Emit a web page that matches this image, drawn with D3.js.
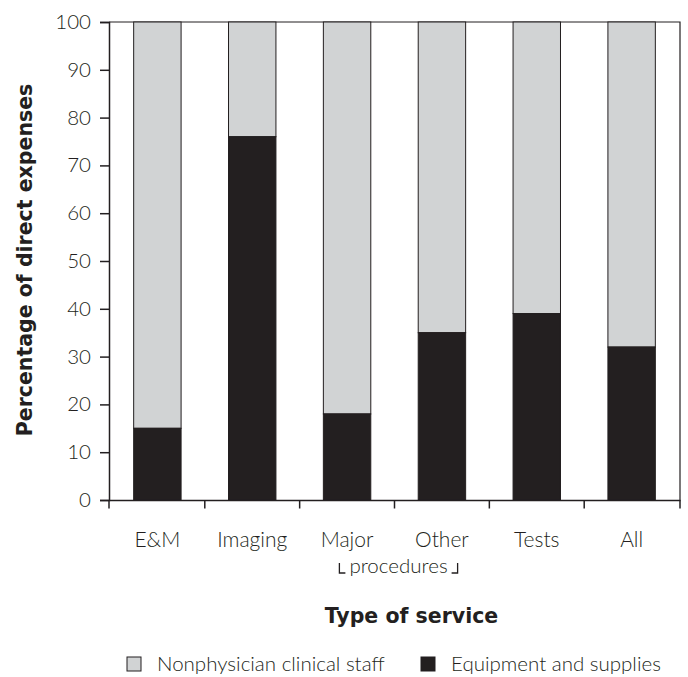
<!DOCTYPE html>
<html>
<head>
<meta charset="utf-8">
<script src="https://cdn.jsdelivr.net/npm/d3@7"></script>
<style>
  html, body { margin: 0; padding: 0; background: #fff; }
  svg { display: block; }
</style>
</head>
<body>
<svg id="chart" width="688" height="677"></svg>
<script>
// Share of direct expenses by type of service
const categories = ["E&M", "Imaging", "Major", "Other", "Tests", "All"];
const equipmentSupplies = [15, 76, 18, 35, 39, 32];
const clinicalStaff = [85, 24, 82, 65, 61, 68];
const yTicks = [0, 10, 20, 30, 40, 50, 60, 70, 80, 90, 100];
const seriesNames = ["Nonphysician clinical staff", "Equipment and supplies"];

const dark = "#231f20";
const grey = "#d1d3d4";
const lightFont = "Lato, sans-serif";
const boldFont = "'DejaVu Sans', sans-serif";

const svg = d3.select("#chart");
const plotLeft = 109, plotRight = 680, plotTop = 22, plotBottom = 500;

const x = d3.scaleBand().domain(categories).range([plotLeft, plotRight])
  .paddingInner(0.5).paddingOuter(0.26);
const y = d3.scaleLinear().domain([0, 100]).range([plotBottom, plotTop]);

function lightText(sel, size) {
  sel.style("font-family", lightFont).style("font-weight", 300)
    .style("font-size", size + "px").attr("fill", dark);
}
function boldText(sel, size) {
  sel.style("font-family", boldFont).style("font-weight", 700)
    .style("font-size", size + "px").attr("fill", dark);
}

// plot frame (top and right edges)
svg.append("path")
  .attr("d", `M${plotLeft},${plotTop}H${plotRight}V${plotBottom}`)
  .attr("fill", "none").attr("stroke", dark).attr("stroke-width", 1.2);

// stacked bars
const rows = categories.map((c, i) => ({ c, eq: equipmentSupplies[i], st: clinicalStaff[i] }));
const g = svg.append("g");
g.selectAll("rect.staff").data(rows).join("rect")
  .attr("class", "staff")
  .attr("x", d => x(d.c)).attr("width", x.bandwidth())
  .attr("y", d => y(d.eq + d.st)).attr("height", d => y(d.eq) - y(d.eq + d.st))
  .attr("fill", grey).attr("stroke", dark).attr("stroke-width", 1);
g.selectAll("rect.equip").data(rows).join("rect")
  .attr("class", "equip")
  .attr("x", d => x(d.c)).attr("width", x.bandwidth())
  .attr("y", d => y(d.eq)).attr("height", d => y(0) - y(d.eq))
  .attr("fill", dark).attr("stroke", dark).attr("stroke-width", 1);

// y axis
const yAxis = svg.append("g").attr("transform", `translate(${plotLeft},0)`)
  .call(d3.axisLeft(y).tickValues(yTicks).tickSize(9).tickPadding(9));
yAxis.select(".domain").attr("stroke", dark).attr("stroke-width", 1.5);
yAxis.selectAll(".tick line").attr("stroke", dark).attr("stroke-width", 1.5);
yAxis.selectAll(".tick text").call(lightText, 20.5);

// x axis: ticks sit on the band boundaries, labels at band centres
const xAxis = svg.append("g").attr("transform", `translate(0,${plotBottom})`)
  .call(d3.axisBottom(x).tickSize(0).tickPadding(32));
xAxis.select(".domain").attr("stroke", dark).attr("stroke-width", 1.5);
xAxis.selectAll(".tick text").call(lightText, 21);
const boundaries = categories.map(c => x(c) - x.step() * x.paddingInner() / 2)
  .concat([plotRight]);
boundaries[0] = plotLeft;
xAxis.selectAll("line.bound").data(boundaries).join("line")
  .attr("class", "bound")
  .attr("x1", d => d).attr("x2", d => d)
  .attr("y1", 0).attr("y2", 8.5)
  .attr("stroke", dark).attr("stroke-width", 1.5);

// bracket grouping "Major" and "Other" as procedures
const procBase = 573;
const procMid = (x("Major") + x("Other") + x.bandwidth()) / 2 + 4;
const proc = svg.append("text")
  .attr("x", procMid).attr("y", procBase)
  .attr("text-anchor", "middle")
  .call(lightText, 20.5)
  .text("procedures");
const pb = proc.node().getBBox();
const bx0 = pb.x - 10, bx1 = pb.x + pb.width + 10;
svg.append("path")
  .attr("d", `M${bx0},${procBase - 10}V${procBase}H${bx0 + 6}`)
  .attr("fill", "none").attr("stroke", dark).attr("stroke-width", 1.3);
svg.append("path")
  .attr("d", `M${bx1},${procBase - 10}V${procBase}H${bx1 - 6}`)
  .attr("fill", "none").attr("stroke", dark).attr("stroke-width", 1.3);

// axis titles
svg.append("text")
  .attr("transform", `translate(32,260) rotate(-90)`)
  .attr("text-anchor", "middle")
  .call(boldText, 20.5)
  .text("Percentage of direct expenses");
svg.append("text")
  .attr("x", 411.5).attr("y", 623)
  .attr("text-anchor", "middle")
  .call(boldText, 20.5)
  .text("Type of service");

// legend
const legendItems = [
  { name: seriesNames[0], fill: grey, x: 127 },
  { name: seriesNames[1], fill: dark, x: 421 }
];
const li = svg.append("g").selectAll("g").data(legendItems).join("g")
  .attr("transform", d => `translate(${d.x},657)`);
li.append("rect").attr("width", 14).attr("height", 14)
  .attr("fill", d => d.fill).attr("stroke", dark).attr("stroke-width", 1);
li.append("text").attr("x", 30).attr("y", 14)
  .call(lightText, 20.5)
  .text(d => d.name);
</script>
</body>
</html>
